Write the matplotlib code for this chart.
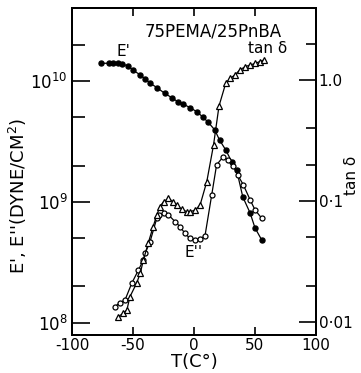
import matplotlib
matplotlib.use('Agg')
import matplotlib.pyplot as plt
from matplotlib.ticker import FixedLocator, NullFormatter

# ---------------------DATA-------------------------------------------
# E' (storage modulus, filled circles), dyne/cm^2
T_e1 = [-76, -70, -66, -62, -59, -54, -50, -44, -40, -36, -30, -24, -18, -13,
        -9, -3, 2.5, 7.5, 11.5, 17, 21, 26, 31, 35, 40, 46, 50, 55.5]
E1 = [1.40e10, 1.40e10, 1.40e10, 1.40e10, 1.38e10, 1.33e10, 1.23e10, 1.12e10,
      1.04e10, 9.6e9, 8.75e9, 7.9e9, 7.25e9, 6.7e9, 6.45e9, 6.0e9, 5.55e9,
      5.0e9, 4.57e9, 3.94e9, 3.24e9, 2.69e9, 2.14e9, 1.82e9, 1.10e9, 8.1e8,
      6.1e8, 4.85e8]

# E'' (loss modulus, open circles)
T_e2 = [-65, -61, -56.5, -51, -45.5, -41.5, -40, -36, -30.5, -29, -25, -21,
        -15.5, -11.5, -7.5, -3.5, 1, 5, 9, 14.5, 18.5, 24, 28, 32, 36, 40.5,
        46, 50, 55.5]
E2 = [1.36e8, 1.46e8, 1.55e8, 2.13e8, 2.74e8, 3.31e8, 3.77e8, 4.70e8, 7.33e8,
      7.82e8, 8.07e8, 7.82e8, 6.87e8, 6.25e8, 5.51e8, 5.01e8, 4.85e8, 4.92e8,
      5.24e8, 1.14e9, 2.02e9, 2.37e9, 2.22e9, 2.0e9, 1.66e9, 1.38e9, 1.04e9,
      8.6e8, 7.33e8]

# tan delta (open triangles), right axis
T_tan = [-62, -58, -55, -52.5, -47, -44, -41.5, -37.5, -33.5, -30.5, -28, -25,
         -21, -17, -14, -10, -6, -3, 1, 5, 10.5, 16, 20.5, 26, 29.5, 33.5,
         37.5, 42, 46, 50, 54, 57]
tan_d = [0.0111, 0.0118, 0.0126, 0.0162, 0.0210, 0.0254, 0.0325, 0.045,
         0.0614, 0.0766, 0.0897, 0.0986, 0.105, 0.0986, 0.0927, 0.0853,
         0.0817, 0.0817, 0.0843, 0.0927, 0.145, 0.290, 0.61, 0.94, 1.03, 1.10,
         1.21, 1.29, 1.33, 1.37, 1.42, 1.46]

x_ticks = [-100, -50, 0, 50, 100]
x_labels = ['-100', '-50', '0', '50', '100']
left_major = [1e8, 1e9, 1e10]
left_labels = ['$10^8$', '$10^9$', '$10^{10}$']
left_minor = [2e8, 5e8, 2e9, 5e9, 2e10]
right_major = [0.01, 0.1, 1.0]
right_labels = ['0\u00b701', '0\u00b71', '1.0']
right_minor = [0.02, 0.05, 0.2, 0.4, 2.0]
# --------------------------------------------------------------------

plt.rcParams['font.family'] = 'DejaVu Sans'
plt.rcParams['mathtext.fontset'] = 'dejavusans'

fig = plt.figure(figsize=(3.61, 3.73), dpi=100)
ax = fig.add_axes([72 / 361, 38 / 373, 244 / 361, 327 / 373])
ax2 = ax.twinx()

lw = 0.9
ax.plot(T_e1, E1, '-', color='black', lw=lw, marker='o', ms=3.6,
        mfc='black', mec='black')
ax.plot(T_e2, E2, '-', color='black', lw=lw, marker='o', ms=3.6,
        mfc='white', mec='black', mew=0.9)
ax2.plot(T_tan, tan_d, '-', color='black', lw=lw, marker='^', ms=4.0,
         mfc='white', mec='black', mew=0.9)

ax.set_yscale('log')
ax2.set_yscale('log')
ax.set_xlim(-100, 100)
ax.set_ylim(10 ** 7.9, 10 ** 10.603)
ax2.set_ylim(10 ** -2.107, 10 ** 0.595)

ax.set_xticks(x_ticks)
ax.set_xticklabels(x_labels, fontsize=11)
ax.yaxis.set_major_locator(FixedLocator(left_major))
ax.yaxis.set_minor_locator(FixedLocator(left_minor))
ax.yaxis.set_minor_formatter(NullFormatter())
ax.set_yticklabels(left_labels, fontsize=12)
ax2.yaxis.set_major_locator(FixedLocator(right_major))
ax2.yaxis.set_minor_locator(FixedLocator(right_minor))
ax2.yaxis.set_minor_formatter(NullFormatter())
ax2.set_yticklabels(right_labels, fontsize=11)

ax.tick_params(axis='x', which='major', direction='in', length=6, width=1.2,
               top=True, pad=2)
ax.tick_params(axis='x', which='minor', bottom=False, top=False)
ax.tick_params(axis='y', which='major', direction='in', length=13, width=1.2,
               pad=3)
ax.tick_params(axis='y', which='minor', direction='in', length=9, width=1.2)
ax2.tick_params(axis='y', which='major', direction='in', length=12, width=1.2,
                pad=2)
ax2.tick_params(axis='y', which='minor', direction='in', length=7, width=1.2)

for a in (ax, ax2):
    for s in a.spines.values():
        s.set_linewidth(1.4)

ax.set_xlabel('T(C\u00b0)', fontsize=13, labelpad=0)
fig.text(18 / 361, 1 - 196 / 373, "E', E''(DYNE/CM$^2$)", rotation=90,
         fontsize=13, ha='center', va='center')
fig.text(352 / 361, 1 - 175 / 373, 'tan \u03b4', rotation=90, fontsize=11,
         ha='center', va='center')

ax.text(15.6, 2.54e10, '75PEMA/25PnBA', fontsize=12, ha='center',
        va='center')
ax.text(-58, 1.75e10, "E'", fontsize=11, ha='center', va='center')
ax.text(60, 1.87e10, 'tan \u03b4', fontsize=11, ha='center', va='center')
ax.text(-0.5, 3.8e8, "E''", fontsize=11, ha='center', va='center')

fig.savefig('out.png', dpi=100)
